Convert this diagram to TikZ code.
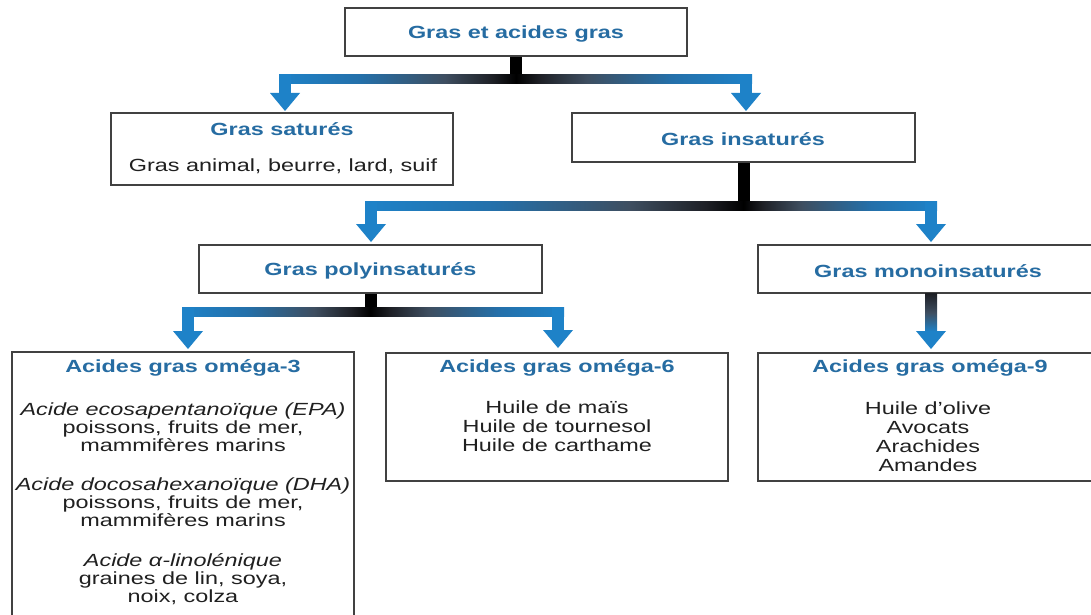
\documentclass[tikz,border=0pt]{standalone}
\usepackage{fontspec}
\setmainfont{Liberation Sans}[FakeStretch=1.33]
\usetikzlibrary{calc}
\definecolor{arrblue}{RGB}{30,130,200}
\definecolor{arrblueb}{RGB}{36,112,170}
\definecolor{midslate}{RGB}{62,78,96}
\definecolor{darkslate}{RGB}{30,32,38}
\definecolor{headblue}{RGB}{38,108,162}
\definecolor{bodygray}{RGB}{32,32,32}
\definecolor{boxgray}{RGB}{65,65,65}
\pgfdeclarehorizontalshading{barL}{100bp}{color(0bp)=(arrblue); color(25bp)=(arrblue); color(42bp)=(arrblueb); color(60bp)=(midslate); color(70bp)=(darkslate); color(75bp)=(black); color(100bp)=(black)}
\pgfdeclarehorizontalshading{barR}{100bp}{color(0bp)=(black); color(25bp)=(black); color(30bp)=(darkslate); color(40bp)=(midslate); color(58bp)=(arrblueb); color(75bp)=(arrblue); color(100bp)=(arrblue)}
\pgfdeclareverticalshading{vbar}{100bp}{color(0bp)=(arrblue); color(25bp)=(arrblue); color(50bp)=(midslate); color(75bp)=(darkslate); color(100bp)=(darkslate)}
\tikzset{
  box/.style={draw=boxgray, line width=1.8pt, inner sep=0pt, fill=white},
  head/.style={font=\bfseries\fontsize{17.6}{19}\selectfont, text=headblue, inner sep=0pt},
  body/.style={font=\fontsize{17.6}{19}\selectfont, text=bodygray, align=center, inner sep=0pt},
  bodyit/.style={font=\fontsize{17.6}{18}\selectfont, text=bodygray, align=center, inner sep=0pt}
}
\newcommand\stemdraw[2]{\fill[black] ($(#1.south)+(-6,0)$) rectangle ($(#1.south |- #2)+(6,4.5)$);}
\newcommand\branchL[2]{%
  \shade[shading=barL] ($(#2 |- #1)+(-6,-4.5)$) rectangle ($(#1)+(0,4.5)$);
  \fill[arrblue] ($(#2 |- #1)+(-6,-4.5)$) rectangle ($(#2)+(6,-17.5)$);
  \fill[arrblue] ($(#2)+(-15,-18)$) -- ($(#2)+(15,-18)$) -- (#2) -- cycle;}
\newcommand\branchR[2]{%
  \shade[shading=barR] ($(#1)+(0,-4.5)$) rectangle ($(#2 |- #1)+(6,4.5)$);
  \fill[arrblue] ($(#2 |- #1)+(-6,-4.5)$) rectangle ($(#2)+(6,-17.5)$);
  \fill[arrblue] ($(#2)+(-15,-18)$) -- ($(#2)+(15,-18)$) -- (#2) -- cycle;}
\begin{document}
\begin{tikzpicture}[x=1pt,y=-1pt]
\useasboundingbox (0,0) rectangle (1091,615);
\clip (0,0) rectangle (1091,615);
\fill[white] (0,0) rectangle (1091,615);
% boxes
\node[box, minimum width=342pt, minimum height=48pt] (top) at (516,32) {};
\node[box, minimum width=342pt, minimum height=72pt] (sat) at (282,149) {};
\node[box, minimum width=343pt, minimum height=49pt] (ins) at (743.5,137.5) {};
\node[box, minimum width=343pt, minimum height=48pt] (poly) at (370.5,269) {};
\node[box, minimum width=336pt, minimum height=48pt] (mono) at (926,269) {};
\node[box, minimum width=342pt, minimum height=270pt] (o3) at (183,487) {};
\node[box, minimum width=342pt, minimum height=128pt] (o6) at (557,417) {};
\node[box, minimum width=336pt, minimum height=128pt] (o9) at (926,417) {};
% texts
\node[head] (topt) at (516,34) {Gras et acides gras};
\node[head] (satt) at (282,129) {Gras saturés};
\node[body] (satb) at (283,166) {Gras animal, beurre, lard, suif};
\node[head] (inst) at (743,139) {Gras insaturés};
\node[head] (polyt) at (370.5,271) {Gras polyinsaturés};
\node[head] (monot) at (928,271) {Gras monoinsaturés};
\node[head] (o3t) at (183,368) {Acides gras oméga-3};
\node[bodyit] (o3a) at (183,427) {{\itshape Acide ecosapentanoïque (EPA)}\\poissons, fruits de mer,\\mammifères marins};
\node[bodyit] (o3b) at (183,502) {{\itshape Acide docosahexanoïque (DHA)}\\poissons, fruits de mer,\\mammifères marins};
\node[bodyit] (o3c) at (183,579) {{\itshape Acide α-linolénique}\\graines de lin, soya,\\noix, colza};
\node[head] (o6t) at (557,368) {Acides gras oméga-6};
\node[body] (o6b) at (557,426) {Huile de maïs\\Huile de tournesol\\Huile de carthame};
\node[head] (o9t) at (930,368) {Acides gras oméga-9};
\node[body] (o9b) at (928,437) {Huile d’olive\\Avocats\\Arachides\\Amandes};
% junctions and arrow tips
\coordinate (j1) at (516,79);
\coordinate (a1L) at (285,111);
\coordinate (a1R) at (746,111);
\coordinate (j2) at (743.5,206);
\coordinate (a2L) at (371,242);
\coordinate (a2R) at (931,242);
\coordinate (j3) at (370.5,312);
\coordinate (a3L) at (188,349);
\coordinate (a3R) at (558,348);
\coordinate (a4) at (931,349);
% connectors
\stemdraw{top}{j1}
\branchL{j1}{a1L}
\branchR{j1}{a1R}
\stemdraw{ins}{j2}
\branchL{j2}{a2L}
\branchR{j2}{a2R}
\stemdraw{poly}{j3}
\branchL{j3}{a3L}
\branchR{j3}{a3R}
\shade[shading=vbar] ($(a4 |- mono.south)+(-6,0)$) rectangle ($(a4)+(6,-17.5)$);
\fill[arrblue] ($(a4)+(-15,-18)$) -- ($(a4)+(15,-18)$) -- (a4) -- cycle;
\end{tikzpicture}
\end{document}
